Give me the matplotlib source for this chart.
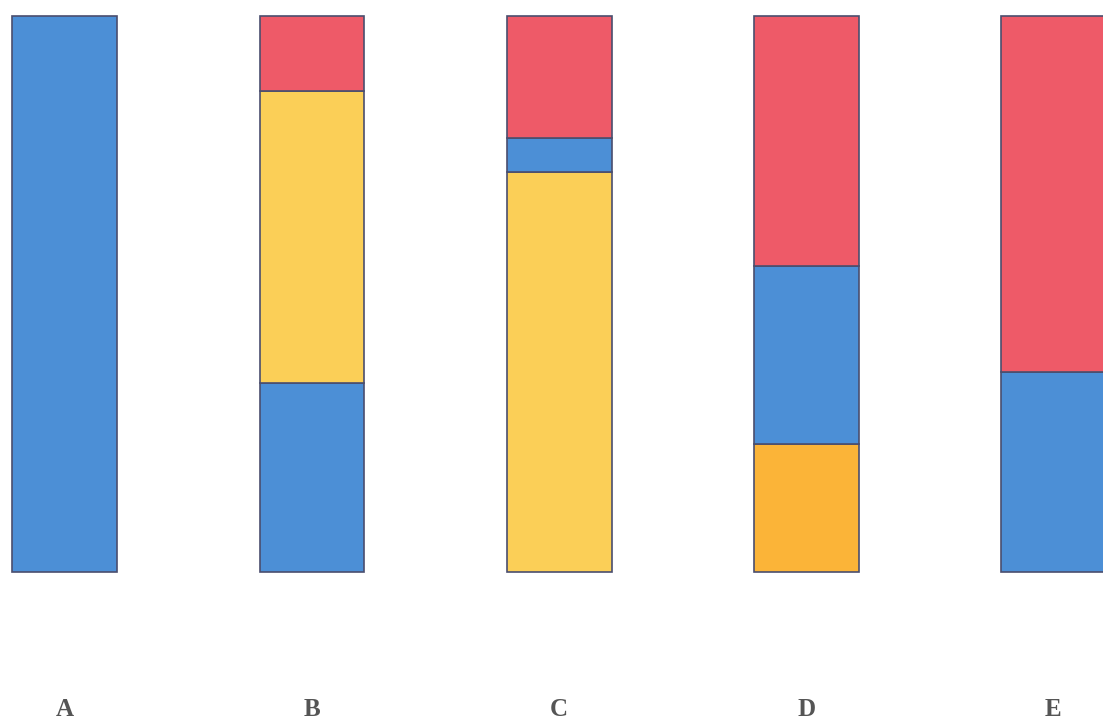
import matplotlib.pyplot as plt

# category labels under the bars
categories = ["A", "B", "C", "D", "E"]

# each bar stacked from the bottom up: (component, percent of the bar)
stack_a = [("blue", 100)]
stack_b = [("blue", 34), ("yellow", 52.5), ("red", 13.5)]
stack_c = [("yellow", 72), ("blue", 6), ("red", 22)]
stack_d = [("orange", 23), ("blue", 32), ("red", 45)]
stack_e = [("blue", 36), ("red", 64)]

stacks = [stack_a, stack_b, stack_c, stack_d, stack_e]

colors = {
    "blue": "#4c8fd6",
    "yellow": "#fbcf57",
    "orange": "#fbb438",
    "red": "#ee5a68",
}

fig = plt.figure(figsize=(11.03, 7.23), dpi=100)
ax = fig.add_axes([0, 0, 1, 1])

for i, stack in enumerate(stacks):
    bottom = 0
    for name, val in stack:
        ax.bar(i, val, bottom=bottom, width=0.425, color=colors[name],
               edgecolor="#4a4e6e", linewidth=1.2)
        bottom += val
    ax.text(i, -24.8, categories[i], ha="center", va="center",
            fontsize=18, fontweight="bold", color="#555555",
            family="Liberation Serif")

ax.set_xlim(-0.263, 4.202)
ax.set_ylim(-27.2, 102.9)
ax.axis("off")

fig.savefig("out.png", dpi=100, facecolor="white")
